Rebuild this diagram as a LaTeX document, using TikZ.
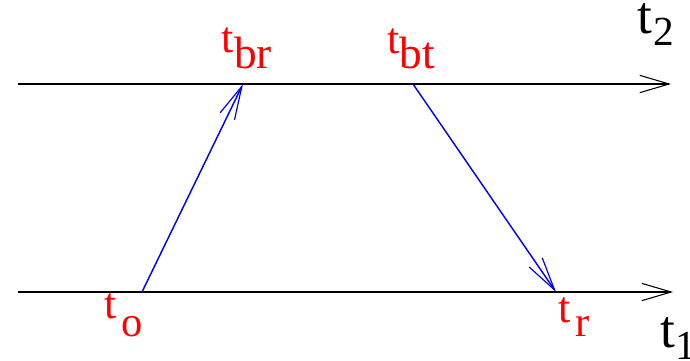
\documentclass[tikz,border=0pt]{standalone}
\usepackage{fontspec}
\setmainfont{Liberation Serif}
\usetikzlibrary{arrows.meta}

\newcommand{\tlab}[5]{\scalebox{#1}{t}\kern#3\raisebox{-#4}{\scalebox{#2}{#5}}}

\begin{document}
\begin{tikzpicture}[
    x=0.75pt, y=-0.75pt,
    axis/.style={line width=1.4pt, -{Straight Barb[length=22pt, width=13pt, line width=0.8pt]}},
    msg/.style={blue, line width=1.1pt, -{Straight Barb[length=25pt, width=12pt, line width=0.9pt]}},
    lab/.style={inner sep=0pt, anchor=base west, font=\fontsize{20pt}{20pt}\selectfont},
    ev/.style={lab, red},
]
\useasboundingbox (0,0) rectangle (690,361);

\coordinate (top0) at (18,84);
\coordinate (top1) at (671,84);
\coordinate (bot0) at (18,292);
\coordinate (bot1) at (673,292);
\coordinate (to)  at (142,292);
\coordinate (tbr) at (243,84);
\coordinate (tbt) at (413,84);
\coordinate (tr)  at (556,292);

\draw[axis] (top0) -- (top1);
\draw[axis] (bot0) -- (bot1);
\draw[msg] (to)  -- (tbr);
\draw[msg] (tbt) -- (tr);

\node[ev] (lbr) at (221,52)  {\tlab{1.65}{1.7}{0.5pt}{12pt}{br}};
\node[ev] (lbt) at (387,53)  {\tlab{1.65}{1.7}{0pt}{11.5pt}{bt}};
\node[ev] (lo)  at (104,318) {\tlab{1.65}{1.6}{3.5pt}{14pt}{o}};
\node[ev] (lr)  at (558,322) {\tlab{1.65}{1.6}{4pt}{11pt}{r}};
\node[lab] (l2) at (637,33)  {\tlab{2}{1.55}{1pt}{9pt}{2}};
\node[lab] (l1) at (660,347) {\tlab{2}{1.55}{0pt}{9pt}{1}};

\end{tikzpicture}
\end{document}
